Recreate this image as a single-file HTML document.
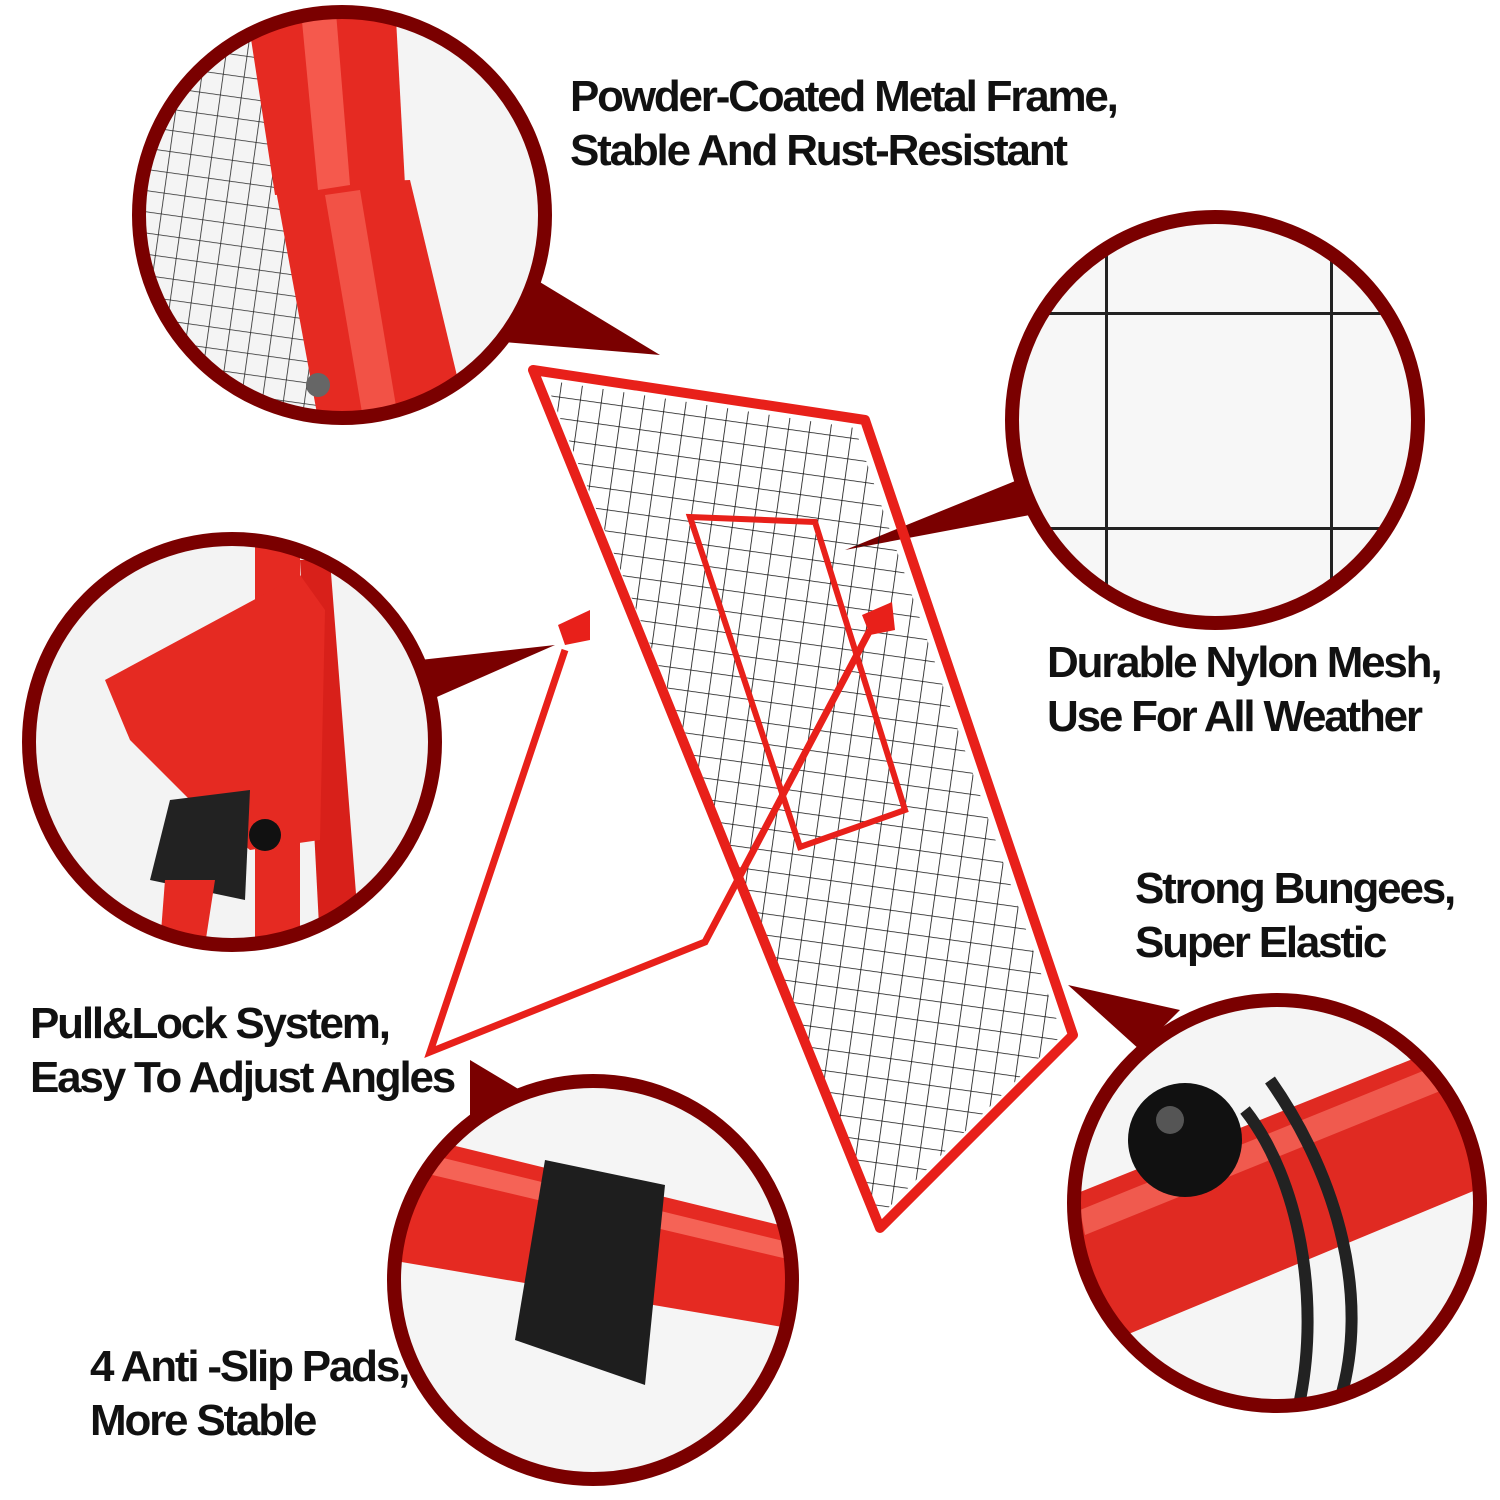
<!DOCTYPE html>
<html><head><meta charset="utf-8"><style>
body{margin:0;background:#fff;width:1500px;height:1500px;overflow:hidden;position:relative;font-family:"Liberation Sans",sans-serif}
.t{position:absolute;font-size:44px;line-height:54px;color:#111;letter-spacing:-2.2px;font-weight:bold}
svg{position:absolute;left:0;top:0}
</style></head><body>
<svg width="1500" height="1500" viewBox="0 0 1500 1500">
<defs>
<pattern id="mesh" width="21" height="21" patternUnits="userSpaceOnUse" patternTransform="rotate(8)">
<path d="M0 0H21M0 0V21" stroke="#111" stroke-width="1.6" fill="none"/>
</pattern>
<pattern id="bigmesh" width="225" height="215" patternUnits="userSpaceOnUse" x="1105" y="312">
<path d="M0 0H225M0 0V215" stroke="#222" stroke-width="6" fill="none"/>
</pattern>
<clipPath id="c1"><circle cx="342" cy="215" r="200"/></clipPath>
<clipPath id="c2"><circle cx="1215" cy="420" r="200"/></clipPath>
<clipPath id="c3"><circle cx="232" cy="742" r="200"/></clipPath>
<clipPath id="c4"><circle cx="1277" cy="1203" r="200"/></clipPath>
<clipPath id="c5"><circle cx="593" cy="1280" r="196"/></clipPath>
</defs>
<polygon points="520,270 660,355 480,340" fill="#7a0000"/>
<polygon points="1030,475 845,550 1030,515" fill="#7a0000"/>
<polygon points="420,660 555,645 430,700" fill="#7a0000"/>
<polygon points="1180,1010 1068,985 1140,1050" fill="#7a0000"/>
<polygon points="520,1090 470,1060 470,1130" fill="#7a0000"/>
<polygon points="545,380 855,428 1062,1035 878,1218" fill="url(#mesh)"/>
<polygon points="533,370 865,420 1073,1035 880,1228" fill="none" stroke="#e8201a" stroke-width="10" stroke-linejoin="round"/>
<polygon points="690,517 815,522 905,810 800,847" fill="none" stroke="#e8201a" stroke-width="6"/>
<polyline points="565,650 430,1052 705,942 870,630" fill="none" stroke="#e8201a" stroke-width="7"/>
<polygon points="558,625 590,610 590,640 565,645" fill="#e8201a"/>
<polygon points="862,615 892,602 895,630 870,635" fill="#e8201a"/>
<g clip-path="url(#c1)"><rect x="130" y="0" width="430" height="430" fill="#f4f4f4"/>
<rect x="140" y="0" width="200" height="430" fill="url(#mesh)" opacity=".9"/>
<polygon points="245,0 395,0 405,185 275,195" fill="#e52a22"/>
<polygon points="275,185 410,180 470,430 320,430" fill="#e52a22"/>
<polygon points="300,0 335,0 350,185 318,190" fill="#ff7a6a" opacity=".6"/>
<polygon points="325,195 360,190 400,430 365,430" fill="#ff7a6a" opacity=".5"/>
<circle cx="318" cy="385" r="12" fill="#666"/></g>
<circle cx="342" cy="215" r="203" fill="none" stroke="#7a0000" stroke-width="14"/>
<g clip-path="url(#c2)"><rect x="1010" y="215" width="410" height="410" fill="#f7f7f7"/>
<rect x="1010" y="215" width="410" height="410" fill="url(#bigmesh)"/></g>
<circle cx="1215" cy="420" r="203" fill="none" stroke="#7a0000" stroke-width="14"/>
<g clip-path="url(#c3)"><rect x="25" y="535" width="415" height="415" fill="#f3f3f3"/>
<polygon points="255,545 300,545 300,945 255,945" fill="#e52a22"/>
<polygon points="300,560 330,560 360,945 320,945" fill="#d8201a"/>
<polygon points="105,680 300,575 325,610 320,840 250,850 200,810 130,740" fill="#e52a22"/>
<polygon points="170,800 250,790 245,900 150,880" fill="#222"/>
<polygon points="165,880 215,880 205,945 160,945" fill="#e52a22"/>
<circle cx="265" cy="835" r="16" fill="#111"/></g>
<circle cx="232" cy="742" r="203" fill="none" stroke="#7a0000" stroke-width="14"/>
<g clip-path="url(#c4)"><rect x="1070" y="995" width="415" height="415" fill="#f5f5f5"/>
<polygon points="1060,1200 1460,1040 1500,1180 1090,1350" fill="#e02a22"/>
<polygon points="1080,1210 1450,1060 1455,1085 1085,1235" fill="#ff8a7a" opacity=".5"/>
<path d="M1245,1110 C1300,1180 1320,1300 1300,1400 M1270,1080 C1340,1180 1370,1300 1340,1400" stroke="#222" stroke-width="12" fill="none"/>
<circle cx="1185" cy="1140" r="57" fill="#111"/><circle cx="1170" cy="1120" r="14" fill="#555"/></g>
<circle cx="1277" cy="1203" r="203" fill="none" stroke="#7a0000" stroke-width="14"/>
<g clip-path="url(#c5)"><rect x="390" y="1080" width="410" height="410" fill="#f5f5f5"/>
<polygon points="390,1130 800,1230 800,1330 390,1260" fill="#e52a22"/>
<polygon points="390,1145 800,1245 800,1262 390,1165" fill="#ff8a7a" opacity=".6"/>
<polygon points="545,1160 665,1185 645,1385 515,1340" fill="#1e1e1e"/></g>
<circle cx="593" cy="1280" r="199" fill="none" stroke="#7a0000" stroke-width="14"/>
</svg>
<div class="t" style="left:570px;top:70px">Powder-Coated Metal Frame,<br>Stable And Rust-Resistant</div>
<div class="t" style="left:1047px;top:636px">Durable Nylon Mesh,<br>Use For All Weather</div>
<div class="t" style="left:1135px;top:862px">Strong Bungees,<br>Super Elastic</div>
<div class="t" style="left:30px;top:997px">Pull&amp;Lock System,<br>Easy To Adjust Angles</div>
<div class="t" style="left:90px;top:1340px">4 Anti -Slip Pads,<br>More Stable</div>
</body></html>
